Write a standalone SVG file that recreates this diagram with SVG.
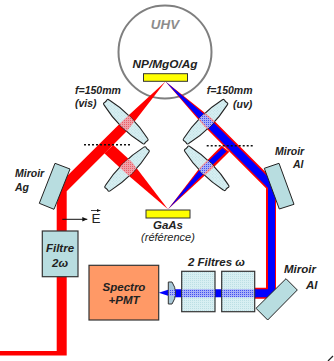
<svg xmlns="http://www.w3.org/2000/svg" width="334" height="361" viewBox="0 0 334 361">
<style>
text{font-family:"Liberation Sans",Arial,sans-serif;font-weight:bold;font-style:italic;fill:#222}
.s{font-size:10.5px}.m{font-size:11.5px}
.mir{fill:#b8dde0;stroke:#222;stroke-width:1}
.lens{fill:url(#g);stroke:#222;stroke-width:1.1}
.box{stroke:#333;stroke-width:1.2}
.dot{stroke:#111;stroke-width:1.6;stroke-dasharray:2 2;fill:none}
</style>
<defs>
<pattern id="g" width="2" height="2" patternUnits="userSpaceOnUse"><rect width="2" height="2" fill="#d8eff2"/><rect width="1" height="1" fill="#bcdfe4"/></pattern>
<pattern id="pr" width="2" height="2" patternUnits="userSpaceOnUse"><rect width="2" height="2" fill="#f0a0a8"/><rect width="1" height="1" fill="#e8606a"/></pattern>
<pattern id="pb" width="2" height="2" patternUnits="userSpaceOnUse"><rect width="2" height="2" fill="#a8b0f8"/><rect width="1" height="1" fill="#4050f0"/></pattern>
<marker id="ar" markerWidth="6" markerHeight="6" refX="5" refY="3" orient="auto"><path d="M0 0.7L5 3L0 5.3z" fill="#111"/></marker>
<path id="L" d="M-27 -3.6Q-29.5 -3.4 -28.5 -1L-28.5 1Q-29.5 3.4 -27 3.6Q-14 6.6 0 6.6Q14 6.6 27 3.6Q29.5 3.4 28.5 1L28.5 -1Q29.5 -3.4 27 -3.6Q14 -6.6 0 -6.6Q-14 -6.6 -27 -3.6Z"/>
<path id="bl" d="M165.5 81.5L127.5 130.5L66.7 191.3V355.5H0V351H56.7V205L60 183L124 119.5Z"/>
<path id="bl2" d="M113.3 145L131.7 161.7L168 209.3L126.7 174L104.3 153.3Z"/>
<path id="rr" d="M165.5 81.5L212.2 118.8L276 182.6V298.7H255V287.7H266V188.2L204.4 126.6Z"/>
<path id="rb" d="M165.5 81.5L211 120L275 184V297.3H255V289.3H268V188L205.5 125.5Z"/>
<path id="rr2" d="M221.7 145.7L229.3 151.7L214 167L168 209.3L200 167.5Z"/>
<path id="rb2" d="M222.5 148L226.5 151.5L212 165.5L168 209.3L202.5 166.5Z"/>
<clipPath id="c1"><use href="#L" transform="translate(125.8 121.7) rotate(45)"/></clipPath>
<clipPath id="c2"><use href="#L" transform="translate(127 169) rotate(-45)"/></clipPath>
<clipPath id="c3"><use href="#L" transform="translate(205.5 121.7) rotate(-45)"/></clipPath>
<clipPath id="c4"><use href="#L" transform="translate(206.7 168.3) rotate(45)"/></clipPath>
</defs>
<circle id="uhv" cx="165" cy="52" r="46.5" fill="none" stroke="#7f7f7f" stroke-width="2"/>
<g id="connectors">
<use href="#bl" fill="#f00"/>
<use href="#bl2" fill="#f00"/>
<use href="#rr" fill="#f00"/>
<use href="#rb" fill="#00f"/>
<use href="#rr2" fill="#f00"/>
<use href="#rb2" fill="#00f"/>
<path fill="#00f" d="M158.7 292.7L168 289.7L171 289.3H256V297.3H171L168 295.7Z"/>
<path class="dot" d="M84 144.7H130M206.7 145.7H252.7"/>
<path d="M62.3 219.3H87.3" stroke="#111" stroke-width="1" marker-end="url(#ar)"/>
<path d="M91 210.5H100.5" stroke="#111" stroke-width=".8" marker-end="url(#ar)"/>
<path d="M333 356L328 361" stroke="#222" stroke-width="1.2"/>
</g>
<g id="sample"><rect x="143.5" y="73.7" width="44" height="7.6" fill="#ff0" stroke="#333"/></g>
<g id="reference"><rect x="146" y="210" width="44" height="8" fill="#ff0" stroke="#333"/></g>
<g id="lens-vis-1"><use href="#L" class="lens" transform="translate(125.8 121.7) rotate(45)"/><g clip-path="url(#c1)"><use href="#bl" fill="url(#pr)"/></g></g>
<g id="lens-vis-2"><use href="#L" class="lens" transform="translate(127 169) rotate(-45)"/><g clip-path="url(#c2)"><use href="#bl2" fill="url(#pr)"/></g></g>
<g id="lens-uv-1"><use href="#L" class="lens" transform="translate(205.5 121.7) rotate(-45)"/><g clip-path="url(#c3)"><use href="#rr" fill="url(#pr)"/><use href="#rb" fill="url(#pb)"/></g></g>
<g id="lens-uv-2"><use href="#L" class="lens" transform="translate(206.7 168.3) rotate(45)"/><g clip-path="url(#c4)"><use href="#rr2" fill="url(#pr)"/><use href="#rb2" fill="url(#pb)"/></g></g>
<g id="miroir-ag"><polygon class="mir" points="55,163.3 70,169 54,209.3 39.3,203.3"/><text class="s" x="15" y="177">Miroir</text><text class="s" x="15" y="191">Ag</text></g>
<g id="miroir-al-1"><polygon class="mir" points="264.3,168.3 279,163.3 294,204.3 279.3,209"/><text class="s" x="275" y="155">Miroir</text><text class="s" x="293" y="168">Al</text></g>
<g id="miroir-al-2"><polygon class="mir" points="286,278.7 297.3,290 267.7,320 256,308.3"/><text class="m" x="284" y="273">Miroir</text><text class="m" x="306" y="289">Al</text></g>
<g id="filtre-2w"><rect class="box" x="42.3" y="231" width="35.7" height="45.7" fill="#b8dde0"/><text class="m" x="60" y="252" text-anchor="middle">Filtre</text><text class="m" x="60" y="267" text-anchor="middle">2ω</text></g>
<g id="spectro"><rect class="box" x="89" y="265.3" width="69.7" height="54.7" fill="#f96"/><text class="m" x="124" y="291" text-anchor="middle">Spectro</text><text class="m" x="124" y="304" text-anchor="middle">+PMT</text></g>
<g id="lens-pmt"><path d="M168.3 282H172Q175.5 287 175.5 293Q175.5 299 172 304H168.3Z" fill="#a8c8d8" stroke="#333"/><path d="M168.8 289.7H175V296H168.8Z" fill="url(#pb)"/></g>
<g id="filtres-w"><rect x="181.7" y="271.3" width="33.3" height="40.4" class="box" fill="url(#g)"/><rect x="221.7" y="271.3" width="33" height="40.4" class="box" fill="url(#g)"/><rect x="182.3" y="289.3" width="32.1" height="8" fill="url(#pb)"/><rect x="222.3" y="289.3" width="31.8" height="8" fill="url(#pb)"/><text class="m" x="188" y="266">2 Filtres ω</text></g>
<g id="labels">
<text x="165" y="29" text-anchor="middle" font-size="13.4" style="fill:#8c8c8c">UHV</text>
<text x="165" y="68" text-anchor="middle" font-size="11.8">NP/MgO/Ag</text>
<text class="s" x="75" y="94">f=150mm</text><text class="s" x="75" y="107">(vis)</text>
<text class="s" x="206.7" y="94">f=150mm</text><text class="s" x="233" y="108">(uv)</text>
<text class="m" x="168" y="229" text-anchor="middle">GaAs</text>
<text x="168" y="241" text-anchor="middle" font-size="11" style="font-weight:normal">(référence)</text>
<text x="91.5" y="223.3" font-size="13.5" style="font-weight:normal;font-style:normal">E</text>
</g>
</svg>
